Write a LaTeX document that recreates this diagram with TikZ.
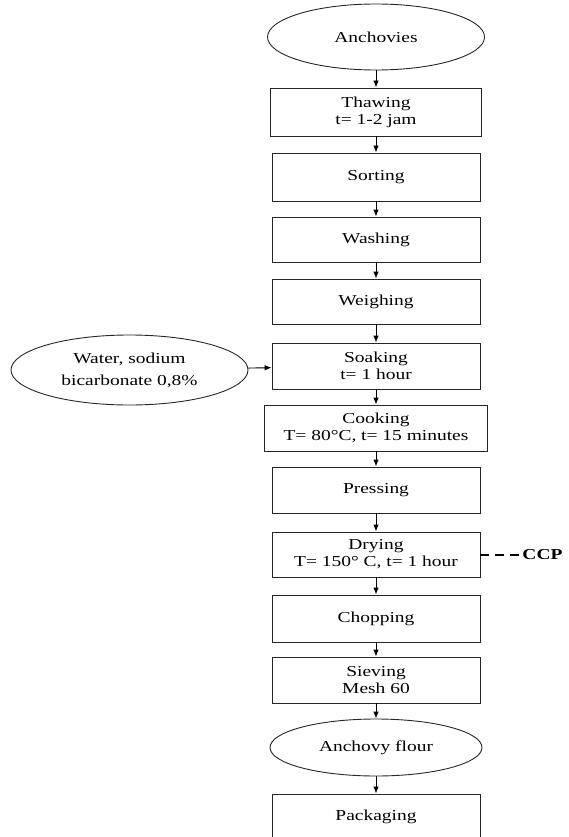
\documentclass[tikz,border=0pt]{standalone}
\usepackage{fontspec}
\setmainfont{Liberation Serif}[FakeStretch=1.28]
\usepackage{tikz}
\usetikzlibrary{shapes.geometric, arrows.meta}

\begin{document}
\begin{tikzpicture}[x=1pt, y=-1pt, line width=0.9pt,
    font=\fontsize{15.2}{17}\selectfont,
    box/.style={draw=black!85, rectangle, minimum width=208pt, minimum height=46pt, inner sep=0pt, align=center},
    oval/.style={draw=black!85, ellipse, inner sep=0pt, align=center},
    flow/.style={-{Latex[length=7pt, width=5.5pt]}}]

      % Define column position
      \def\cx{376}

      \useasboundingbox (0,0) rectangle (569,837);

      % Draw the main column
      \node[oval, minimum width=217pt, minimum height=66pt] (anchovies) at (\cx,37) {Anchovies};
      \node[box, minimum width=211pt, minimum height=48pt] (thawing) at (\cx,112) {Thawing\\t= 1-2 jam};
      \node[box, minimum height=48pt] (sorting) at (\cx,177) {Sorting};
      \node[box, minimum height=45pt] (washing) at (\cx,239.5) {Washing};
      \node[box, minimum height=45pt] (weighing) at (\cx,301.5) {Weighing};
      \node[box] (soaking) at (\cx,366) {Soaking\\t= 1 hour};
      \node[box, minimum width=223pt] (cooking) at (\cx,428) {Cooking\\T= 80°C, t= 15 minutes};
      \node[box] (pressing) at (\cx,490) {Pressing};
      \node[box, minimum height=45pt] (drying) at (\cx,554.5) {Drying\\T= 150° C, t= 1 hour};
      \node[box, minimum height=47pt] (chopping) at (\cx,618.5) {Chopping};
      \node[box] (sieving) at (\cx,680) {Sieving\\Mesh 60};
      \node[oval, minimum width=212pt, minimum height=57pt] (flour) at (\cx,747.5) {Anchovy flour};
      \node[box] (packaging) at (\cx,817) {Packaging};

      % Side input and control point
      \node[oval, minimum width=237pt, minimum height=70pt] (water) at (129.5,370) {Water, sodium\\[5pt]bicarbonate 0,8\%};
      \node[anchor=west, inner sep=2pt, font=\fontsize{15.2}{17}\selectfont\bfseries] (ccp) at (520,554.5) {CCP};

      % Draw the arrows
      \draw[flow] (anchovies) -- (thawing);
      \draw[flow] (thawing) -- (sorting);
      \draw[flow] (sorting) -- (washing);
      \draw[flow] (washing) -- (weighing);
      \draw[flow] (weighing) -- (soaking);
      \draw[flow] (soaking) -- (cooking);
      \draw[flow] (cooking) -- (pressing);
      \draw[flow] (pressing) -- (drying);
      \draw[flow] (drying) -- (chopping);
      \draw[flow] (chopping) -- (sieving);
      \draw[flow] (sieving) -- (flour);
      \draw[flow] (flour) -- (packaging);
      \draw[flow] (water) -- (soaking);

      \draw[line width=2pt, dash pattern=on 9pt off 6pt] (drying) -- (ccp);
    \end{tikzpicture}
\end{document}
